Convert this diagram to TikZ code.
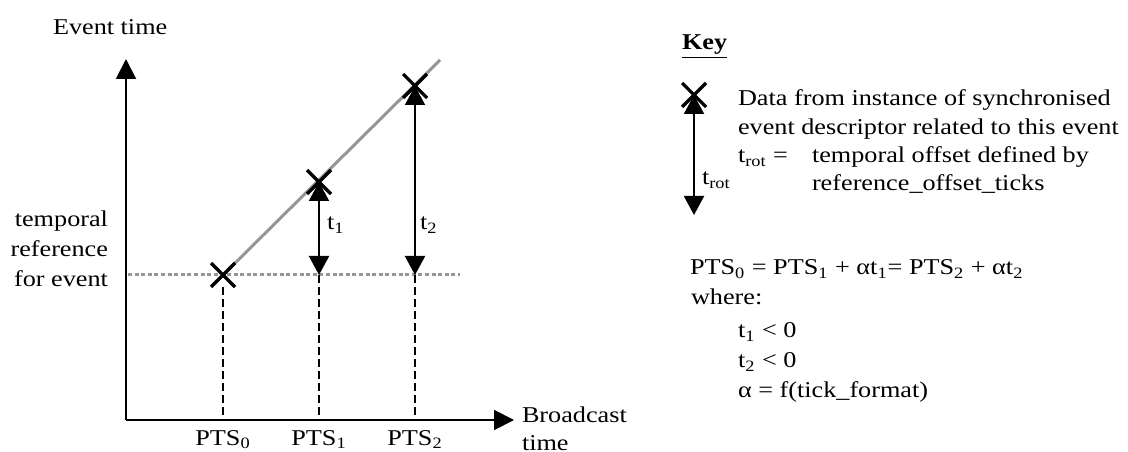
\documentclass[tikz,border=0pt]{standalone}
\usepackage{fontspec}
\setmainfont[FakeStretch=1.16]{Liberation Serif}
\usetikzlibrary{arrows.meta,shapes.misc}
\definecolor{lgray}{RGB}{150,150,150}
\begin{document}
\begin{tikzpicture}[x=0.5bp,y=-0.5bp,
  every node/.style={font=\fontsize{11.3bp}{14bp}\selectfont, inner sep=0pt, outer sep=0pt},
  lbl/.style={anchor=base west},
  rlbl/.style={anchor=base east},
  clbl/.style={anchor=base},
  axisline/.style={line width=1bp, -{Triangle[length=10bp,width=10bp]}},
  dblarrow/.style={line width=1bp, {Triangle[length=9.5bp,width=10bp]}-{Triangle[length=9.5bp,width=10bp]}},
  xmark/.style={cross out, draw, line width=1.6bp, minimum size=12bp},
  dashv/.style={line width=0.75bp, dash pattern=on 4bp off 2bp},
  dotline/.style={lgray, line width=1.5bp, dash pattern=on 2bp off 1.3bp},
  grayline/.style={lgray, line width=1.5bp}
]
\useasboundingbox (0,0) rectangle (1128,452);

% coordinates
\coordinate (o) at (126,420);
\coordinate (ytop) at (126,59);
\coordinate (xend) at (514,420);
\coordinate (c0) at (223,275);
\coordinate (c1) at (319,182);
\coordinate (c2) at (415,86);
\coordinate (gend) at (440,60);
\coordinate (dl) at (128,275);
\coordinate (dr) at (460,275);
\coordinate (b1) at (319,275);
\coordinate (b2) at (415,275);
\coordinate (p0) at (223,420);
\coordinate (p1) at (319,420);
\coordinate (p2) at (415,420);

% axes
\draw[axisline] (o) -- (ytop);
\draw[axisline] (o) -- (xend);

% reference lines
\draw[dotline] (dl) -- (dr);
\draw[grayline] (c0) -- (gend);

% event marks
\node[xmark] (x0) at (c0) {};
\node[xmark] (x1) at (c1) {};
\node[xmark] (x2) at (c2) {};

% offsets
\draw[dblarrow] (x1.center) -- (b1);
\draw[dblarrow] (x2.center) -- (b2);

% dashed drops
\draw[dashv] (x0.south) -- (p0);
\draw[dashv] (b1) -- (p1);
\draw[dashv] (b2) -- (p2);

% labels
\node[lbl] (evt) at (53,35) {Event time};
\node[rlbl] (tr1) at (108,227) {temporal};
\node[rlbl] (tr2) at (108,257) {reference};
\node[rlbl] (tr3) at (108,287) {for event};
\node[lbl] (t1l) at (327,230) {t\textsubscript{1}};
\node[lbl] (t2l) at (420,230) {t\textsubscript{2}};
\node[clbl] (pts0) at (223,445) {PTS\textsubscript{0}};
\node[clbl] (pts1) at (319,445) {PTS\textsubscript{1}};
\node[clbl] (pts2) at (415,445) {PTS\textsubscript{2}};
\node[lbl] (bc1) at (522,422) {Broadcast};
\node[lbl] (bc2) at (522,450) {time};

% key
\node[lbl] (key) at (682,50) {\underline{\textbf{Key}}};
\coordinate (kc) at (694,95);
\coordinate (kb) at (694,215);
\node[xmark] (kx) at (kc) {};
\draw[dblarrow] (kx.center) -- (kb);
\node[lbl] (trot) at (702,185) {t\textsubscript{rot}};
\node[lbl] (k1) at (738,106) {Data from instance of synchronised};
\node[lbl] (k2) at (738,135) {event descriptor related to this event};
\node[lbl] (k3) at (738,163) {t\textsubscript{rot} =};
\node[lbl] (k3b) at (812,163) {temporal offset defined by};
\node[lbl] (k4) at (812,191) {reference\_offset\_ticks};

% formula
\node[lbl] (eq) at (690,275) {PTS\textsubscript{0} = PTS\textsubscript{1} + αt\textsubscript{1}= PTS\textsubscript{2} + αt\textsubscript{2}};
\node[lbl] (wh) at (691,305) {where:};
\node[lbl] (w1) at (738,338) {t\textsubscript{1} < 0};
\node[lbl] (w2) at (738,368) {t\textsubscript{2} < 0};
\node[lbl] (w3) at (738,397) {α = f(tick\_format)};
\end{tikzpicture}
\end{document}
